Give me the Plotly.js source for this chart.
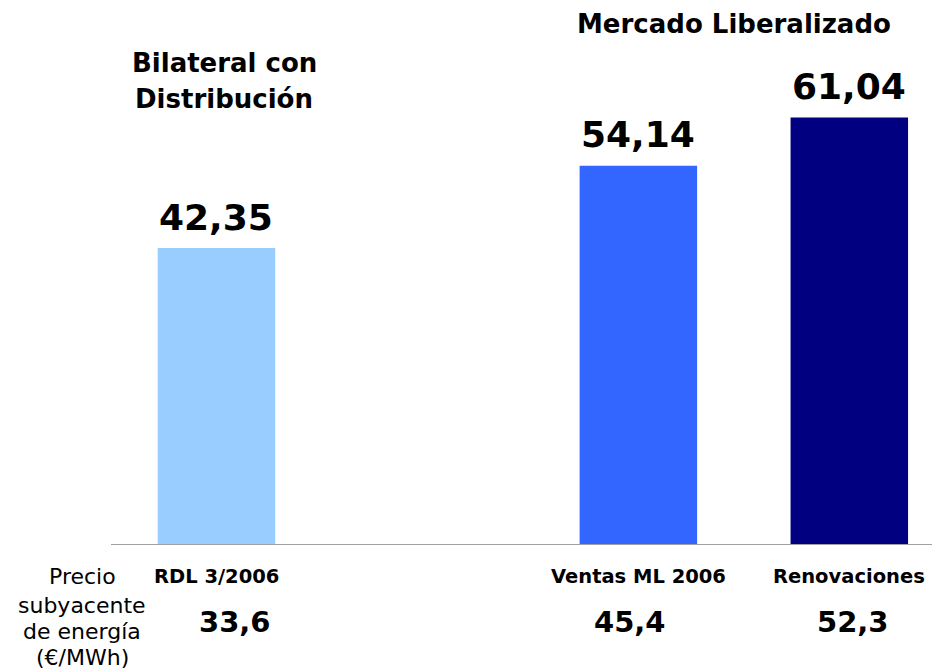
<!DOCTYPE html>
<html>
<head>
<meta charset="utf-8">
<script src="https://cdn.plot.ly/plotly-3.0.1.min.js"></script>
<style>
  html, body { margin: 0; padding: 0; background: #ffffff; }
  #chart { width: 932px; height: 670px; }
</style>
</head>
<body>
<div id="chart"></div>
<script>
// ---- data ----
const categories = ["RDL 3/2006", "Ventas ML 2006", "Renovaciones"];
const prices = [42.35, 54.14, 61.04];            // bar values
const underlyingPrices = [33.6, 45.4, 52.3];     // precio subyacente de energía
const barColors = ["#99CCFF", "#3366FF", "#000080"];
const rowLabelLines = ["Precio", "subyacente", "de energía", "(€/MWh)"];
const groupTitleLeft = ["Bilateral con", "Distribución"];
const groupTitleRight = "Mercado Liberalizado";

// gap slot between the bilateral bar and the liberalised-market bars
const gap = " ";
const xs = [categories[0], gap, categories[1], categories[2]];
const ys = [prices[0], null, prices[1], prices[2]];
const cols = [barColors[0], "#ffffff", barColors[1], barColors[2]];

function fmt(v, d) { return v.toFixed(d).replace(".", ","); }

const FONT = "DejaVu Sans, Verdana, sans-serif";
const ann = [];

// value labels above bars
categories.forEach((c, i) => {
  ann.push({
    x: c, y: prices[i], xref: "x", yref: "y",
    text: fmt(prices[i], 2), showarrow: false,
    xanchor: "center", yanchor: "middle", yshift: 31,
    font: { family: FONT, size: 36, color: "#000", weight: "bold" }
  });
});

// category labels under axis
categories.forEach((c, i) => {
  ann.push({
    x: c, y: (544 - 576) / 524, xref: "x", yref: "paper",
    text: c, showarrow: false, xanchor: "center", yanchor: "middle",
    font: { family: FONT, size: 19.5, color: "#000", weight: "bold" }
  });
});

// underlying price values
const underShift = [19, -8, 4];
categories.forEach((c, i) => {
  ann.push({
    x: c, y: (544 - 622) / 524, xref: "x", yref: "paper",
    text: fmt(underlyingPrices[i], 1), showarrow: false,
    xanchor: "center", yanchor: "middle", xshift: underShift[i],
    font: { family: FONT, size: 29, color: "#000", weight: "bold" }
  });
});

// row label on the left (pixel centres converted to paper coords)
const rowY = [576, 605, 631, 657];
rowLabelLines.forEach((t, i) => {
  ann.push({
    x: 0, y: (544 - rowY[i]) / 524, xref: "paper", yref: "paper",
    text: t, showarrow: false, xanchor: "center", yanchor: "middle",
    xshift: 82 - 111,
    font: { family: FONT, size: 22, color: "#000" }
  });
});

// group titles
const leftY = [62.5, 99];
groupTitleLeft.forEach((t, i) => {
  ann.push({
    x: categories[0], y: (544 - leftY[i]) / 524, xref: "x", yref: "paper",
    text: t, showarrow: false, xanchor: "center", yanchor: "middle", xshift: 8,
    font: { family: FONT, size: 26, color: "#000", weight: "bold" }
  });
});
ann.push({
  x: 2.5, y: (544 - 24) / 524, xref: "x", yref: "paper",
  text: groupTitleRight, showarrow: false, xanchor: "center", yanchor: "middle", xshift: -10,
  font: { family: FONT, size: 26, color: "#000", weight: "bold" }
});

const trace = {
  type: "bar",
  x: xs,
  y: ys,
  marker: { color: cols, line: { width: 0 } },
  hoverinfo: "skip"
};

const layout = {
  width: 932, height: 670,
  margin: { l: 111, r: 0, t: 20, b: 126, pad: 0 },
  paper_bgcolor: "#ffffff", plot_bgcolor: "#ffffff",
  showlegend: false,
  bargap: 0.443,
  xaxis: {
    type: "category",
    range: [-0.5, 3.392],
    showline: true, linecolor: "#a0a0a0", linewidth: 1,
    showticklabels: false, ticks: "", showgrid: false, zeroline: false,
    fixedrange: true
  },
  yaxis: {
    range: [0, 75], visible: false, showgrid: false, zeroline: false, fixedrange: true
  },
  annotations: ann
};

Plotly.newPlot("chart", [trace], layout, { staticPlot: true, displayModeBar: false });
</script>
</body>
</html>
